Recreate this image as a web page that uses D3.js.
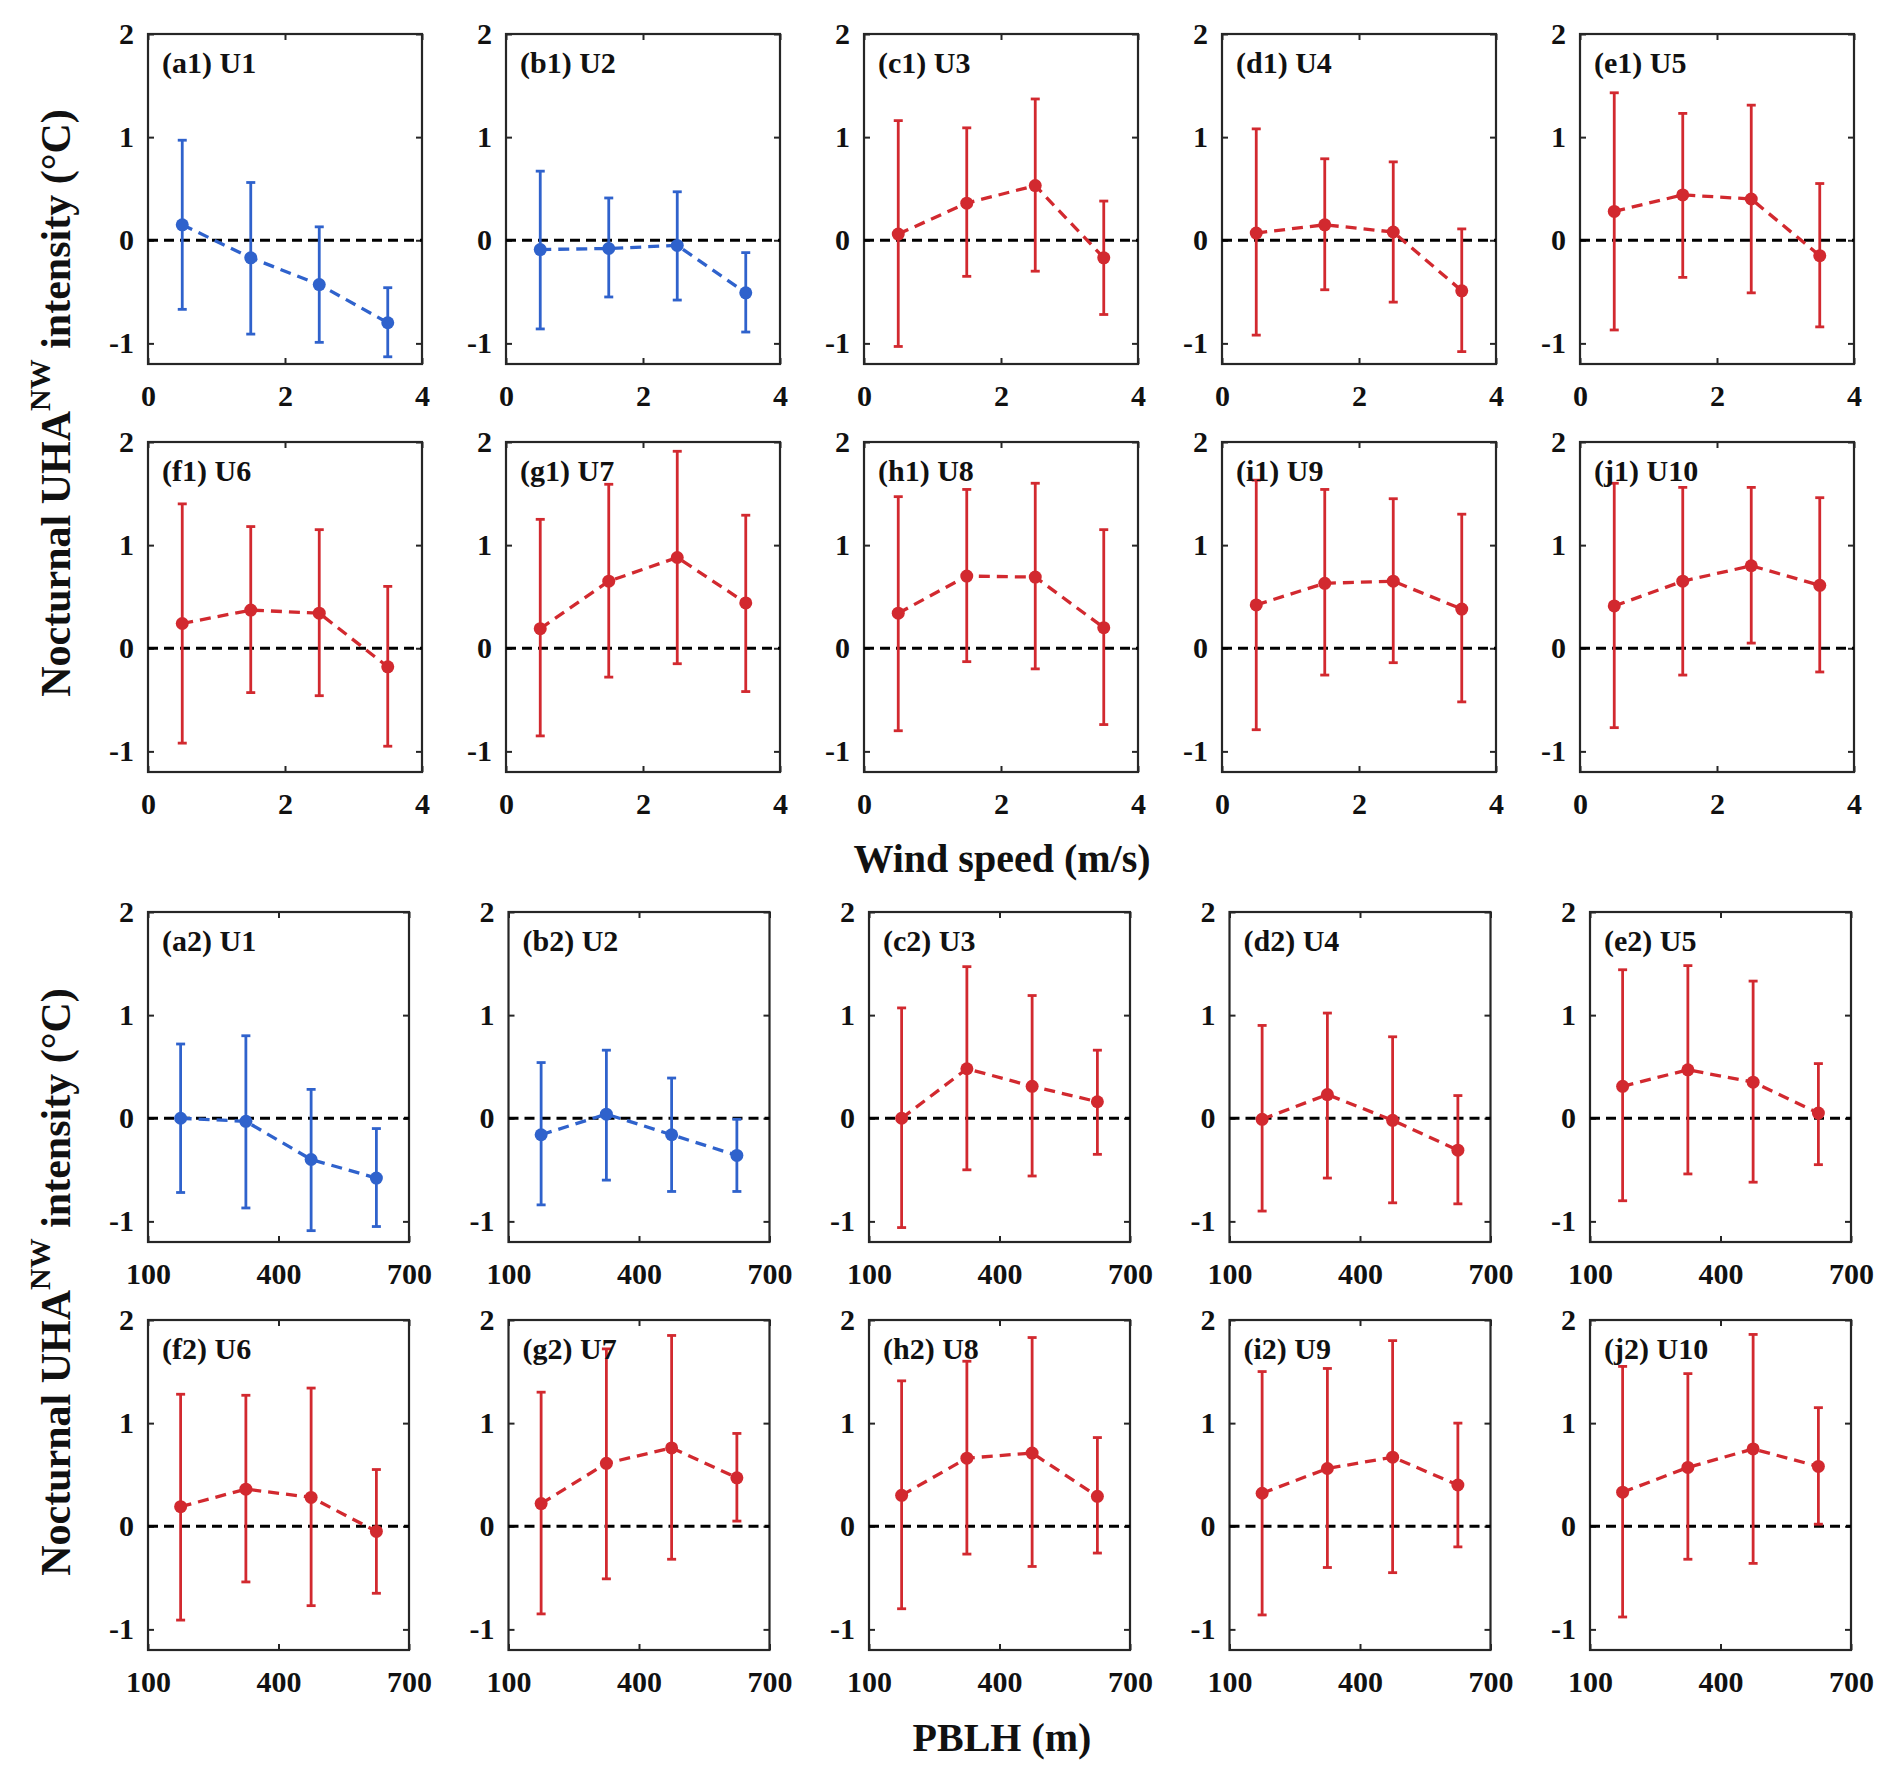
<!DOCTYPE html>
<html>
<head>
<meta charset="utf-8">
<script src="https://cdn.jsdelivr.net/npm/d3@7"></script>
<style>
  body { margin: 0; background: #fff; }
  text { font-family: "Liberation Serif", "Times New Roman", serif; font-weight: bold; }
</style>
</head>
<body>
<svg id="chart" width="1892" height="1776"></svg>
<script>
// stations and bins
var sites = ["U1", "U2", "U3", "U4", "U5", "U6", "U7", "U8", "U9", "U10"];
var panelLetters = ["a", "b", "c", "d", "e", "f", "g", "h", "i", "j"];
var blueSites = ["U1", "U2"];
var windBins = [0.5, 1.5, 2.5, 3.5];
var pblhBins = [175, 325, 475, 625];
var windTicks = [0, 2, 4];
var pblhTicks = [100, 400, 700];
var yTicks = [-1, 0, 1, 2];

// wind speed groups: mean and error bar ends
var windMean = [
    [0.15, -0.17, -0.43, -0.80],
    [-0.09, -0.08, -0.05, -0.51],
    [0.06, 0.36, 0.53, -0.17],
    [0.07, 0.15, 0.08, -0.49],
    [0.28, 0.44, 0.40, -0.15],
    [0.24, 0.37, 0.34, -0.18],
    [0.19, 0.65, 0.88, 0.44],
    [0.34, 0.70, 0.69, 0.20],
    [0.42, 0.63, 0.65, 0.38],
    [0.41, 0.65, 0.80, 0.61]
];
var windUpper = [
    [0.97, 0.56, 0.13, -0.46],
    [0.67, 0.41, 0.47, -0.12],
    [1.16, 1.09, 1.37, 0.38],
    [1.08, 0.79, 0.76, 0.11],
    [1.43, 1.23, 1.31, 0.55],
    [1.40, 1.18, 1.15, 0.60],
    [1.25, 1.59, 1.91, 1.29],
    [1.47, 1.54, 1.60, 1.15],
    [1.63, 1.54, 1.45, 1.30],
    [1.60, 1.56, 1.56, 1.46]
];
var windLower = [
    [-0.67, -0.91, -0.99, -1.13],
    [-0.86, -0.55, -0.58, -0.89],
    [-1.03, -0.35, -0.30, -0.72],
    [-0.92, -0.48, -0.60, -1.08],
    [-0.87, -0.36, -0.51, -0.84],
    [-0.92, -0.43, -0.46, -0.95],
    [-0.85, -0.28, -0.15, -0.42],
    [-0.80, -0.13, -0.20, -0.74],
    [-0.79, -0.26, -0.14, -0.52],
    [-0.77, -0.26, 0.05, -0.23]
];

// PBLH groups
var pblhMean = [
    [0.00, -0.03, -0.40, -0.58],
    [-0.16, 0.04, -0.16, -0.36],
    [0.00, 0.48, 0.31, 0.16],
    [-0.01, 0.23, -0.02, -0.31],
    [0.31, 0.47, 0.35, 0.05],
    [0.19, 0.36, 0.28, -0.05],
    [0.22, 0.61, 0.76, 0.47],
    [0.30, 0.66, 0.71, 0.29],
    [0.32, 0.56, 0.67, 0.40],
    [0.33, 0.57, 0.75, 0.58]
];
var pblhUpper = [
    [0.72, 0.80, 0.28, -0.10],
    [0.54, 0.66, 0.39, -0.01],
    [1.07, 1.47, 1.19, 0.66],
    [0.90, 1.02, 0.79, 0.22],
    [1.44, 1.48, 1.33, 0.53],
    [1.28, 1.27, 1.34, 0.55],
    [1.30, 1.72, 1.85, 0.90],
    [1.41, 1.60, 1.83, 0.86],
    [1.50, 1.53, 1.80, 1.00],
    [1.55, 1.48, 1.86, 1.15]
];
var pblhLower = [
    [-0.72, -0.87, -1.09, -1.05],
    [-0.84, -0.60, -0.71, -0.71],
    [-1.06, -0.50, -0.56, -0.35],
    [-0.90, -0.58, -0.82, -0.83],
    [-0.80, -0.54, -0.62, -0.45],
    [-0.91, -0.54, -0.77, -0.65],
    [-0.85, -0.51, -0.32, 0.05],
    [-0.80, -0.27, -0.39, -0.26],
    [-0.86, -0.40, -0.45, -0.20],
    [-0.88, -0.32, -0.36, 0.02]
];

var BLUE = "#2f62cc";
var RED = "#d2292f";
var AXIS = "#262626";

var svg = d3.select("#chart");

var panelH = 330;
var rowTops = [34, 442, 912, 1320];

function drawPanel(left, top, width, xDomain, xTicks, bins, mean, upper, lower, label, color) {
    var x = d3.scaleLinear().domain(xDomain).range([0, width]);
    var y = d3.scaleLinear().domain([-1.2, 2]).range([panelH, 0]);
    var g = svg.append("g").attr("transform", "translate(" + left + "," + top + ")");

    var fmt = function(d) { return String(d); };

    var ax = g.append("g").call(d3.axisLeft(y).tickValues(yTicks).tickSizeInner(-6).tickSizeOuter(0).tickPadding(14).tickFormat(fmt));
    var bx = g.append("g").attr("transform", "translate(0," + panelH + ")")
        .call(d3.axisBottom(x).tickValues(xTicks).tickSizeInner(-6).tickSizeOuter(0).tickPadding(21).tickFormat(fmt));
    var tx = g.append("g").call(d3.axisTop(x).tickValues(xTicks).tickSizeInner(-6).tickSizeOuter(0).tickFormat(""));
    var rx = g.append("g").attr("transform", "translate(" + width + ",0)")
        .call(d3.axisRight(y).tickValues(yTicks).tickSizeInner(-6).tickSizeOuter(0).tickFormat(""));

    [ax, bx, tx, rx].forEach(function(a) {
        a.select(".domain").remove();
        a.selectAll("line").attr("stroke", AXIS).attr("stroke-width", 2);
        a.selectAll("text").attr("fill", "#111").style("font-size", "30px");
    });

    g.append("rect")
        .attr("width", width).attr("height", panelH)
        .attr("fill", "none").attr("stroke", AXIS).attr("stroke-width", 2.2);

    // zero reference
    g.append("line")
        .attr("x1", 0).attr("x2", width)
        .attr("y1", y(0)).attr("y2", y(0))
        .attr("stroke", "#000").attr("stroke-width", 3)
        .attr("stroke-dasharray", "10,6");

    var pts = bins.map(function(b, i) {
        return {x: b, m: mean[i], hi: upper[i], lo: lower[i]};
    });

    var bars = g.selectAll(".ebar").data(pts).enter().append("g").attr("class", "ebar");
    bars.append("line")
        .attr("x1", function(d) { return x(d.x); }).attr("x2", function(d) { return x(d.x); })
        .attr("y1", function(d) { return y(d.hi); }).attr("y2", function(d) { return y(d.lo); })
        .attr("stroke", color).attr("stroke-width", 2.8);
    bars.append("line")
        .attr("x1", function(d) { return x(d.x) - 4.5; }).attr("x2", function(d) { return x(d.x) + 4.5; })
        .attr("y1", function(d) { return y(d.hi); }).attr("y2", function(d) { return y(d.hi); })
        .attr("stroke", color).attr("stroke-width", 2.8);
    bars.append("line")
        .attr("x1", function(d) { return x(d.x) - 4.5; }).attr("x2", function(d) { return x(d.x) + 4.5; })
        .attr("y1", function(d) { return y(d.lo); }).attr("y2", function(d) { return y(d.lo); })
        .attr("stroke", color).attr("stroke-width", 2.8);

    var line = d3.line().x(function(d) { return x(d.x); }).y(function(d) { return y(d.m); });
    g.append("path").datum(pts)
        .attr("d", line)
        .attr("fill", "none").attr("stroke", color).attr("stroke-width", 3.3)
        .attr("stroke-dasharray", "11,7");

    g.selectAll(".dot").data(pts).enter().append("circle")
        .attr("class", "dot")
        .attr("cx", function(d) { return x(d.x); })
        .attr("cy", function(d) { return y(d.m); })
        .attr("r", 6.5)
        .attr("fill", color);

    g.append("text")
        .attr("x", 14).attr("y", 39)
        .style("font-size", "30px").attr("fill", "#111")
        .text(label);
}

for (var i = 0; i < sites.length; i++) {
    var color = blueSites.indexOf(sites[i]) >= 0 ? BLUE : RED;
    var col = i % 5;
    var r = Math.floor(i / 5);
    drawPanel(148 + col * 358, rowTops[r], 274, [0, 4], windTicks, windBins,
        windMean[i], windUpper[i], windLower[i], "(" + panelLetters[i] + "1) " + sites[i], color);
    drawPanel(148 + col * 360.5, rowTops[r + 2], 261, [100, 700], pblhTicks, pblhBins,
        pblhMean[i], pblhUpper[i], pblhLower[i], "(" + panelLetters[i] + "2) " + sites[i], color);
}

// axis titles
svg.append("text").attr("x", 1002).attr("y", 872)
    .attr("text-anchor", "middle").style("font-size", "40px").attr("fill", "#111")
    .text("Wind speed (m/s)");
svg.append("text").attr("x", 1002).attr("y", 1751)
    .attr("text-anchor", "middle").style("font-size", "40px").attr("fill", "#111")
    .text("PBLH (m)");

[403, 1282].forEach(function(cy) {
    var t = svg.append("text")
        .attr("transform", "translate(70," + cy + ") rotate(-90)")
        .attr("text-anchor", "middle").style("font-size", "42px").attr("fill", "#111");
    t.append("tspan").text("Nocturnal UHA");
    t.append("tspan").attr("dy", -20).style("font-size", "30px").text("NW");
    t.append("tspan").attr("dy", 20).text(" intensity (\u00B0C)");
});
</script>
</body>
</html>
